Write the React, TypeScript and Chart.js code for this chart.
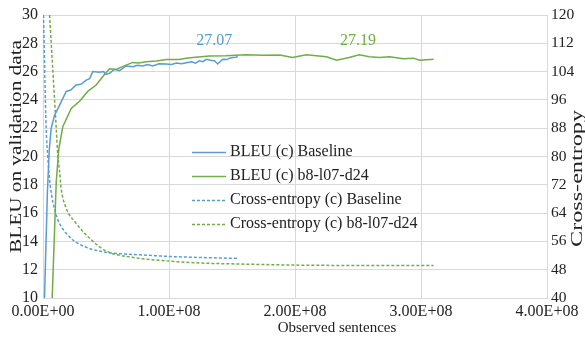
import React, { useEffect, useRef } from "react";
import { Chart, registerables } from "chart.js";

Chart.register(...registerables);

// ---- Data ----
const seriesNames = [
  "BLEU (c) Baseline",
  "BLEU (c) b8-l07-d24",
  "Cross-entropy (c) Baseline",
  "Cross-entropy (c) b8-l07-d24",
];

const xTickValues = [0, 1e8, 2e8, 3e8, 4e8];
const xTickLabels = ["0.00E+00", "1.00E+08", "2.00E+08", "3.00E+08", "4.00E+08"];

const bleuBaselineX = [
  1.2e6, 3.5e6, 5.0e6, 6.5e6, 9.1e6, 1.3e7, 1.84e7, 2.2e7, 2.63e7, 3.0e7, 3.43e7, 3.7e7,
  3.95e7, 4.48e7, 4.8e7, 5.0e7, 5.28e7, 5.67e7, 6.07e7, 6.6e7, 7.13e7, 7.5e7, 7.92e7, 8.3e7,
  8.71e7, 9.2e7, 9.78e7, 1.02e8, 1.06e8, 1.1e8, 1.137e8, 1.18e8, 1.21e8, 1.242e8, 1.27e8,
  1.295e8, 1.33e8, 1.36e8, 1.387e8, 1.41e8, 1.427e8, 1.46e8, 1.48e8, 1.506e8, 1.53e8, 1.546e8,
];
const bleuBaselineY = [
  10, 17.5, 20.5, 22.0, 22.9, 23.6, 24.6, 24.7, 25.05, 25.1, 25.4, 25.5,
  26.0, 25.95, 26.0, 25.8, 25.88, 26.16, 26.07, 26.4, 26.35, 26.45, 26.4, 26.5,
  26.4, 26.55, 26.54, 26.5, 26.6, 26.55, 26.62, 26.7, 26.6, 26.77, 26.7,
  26.87, 26.8, 26.77, 26.54, 26.75, 26.87, 26.85, 26.95, 27.0, 27.02, 27.07,
];

const bleuB8X = [
  7.3e6, 1.05e7, 1.25e7, 1.57e7, 2.24e7, 2.9e7, 3.55e7, 4.22e7, 4.8e7, 5.28e7, 5.8e7, 6.3e7,
  7.13e7, 7.6e7, 8.19e7, 9.0e7, 9.78e7, 1.08e8, 1.137e8, 1.19e8, 1.32e8, 1.45e8, 1.61e8,
  1.75e8, 1.88e8, 1.98e8, 2.09e8, 2.25e8, 2.33e8, 2.43e8, 2.51e8, 2.59e8, 2.67e8, 2.75e8,
  2.86e8, 2.94e8, 2.99e8, 3.1e8,
];
const bleuB8Y = [
  10, 18.2, 20.5, 22.1, 23.4, 23.9, 24.6, 25.05, 25.7, 26.2, 26.15, 26.35,
  26.65, 26.6, 26.7, 26.75, 26.85, 26.85, 26.94, 27.0, 27.1, 27.12, 27.19,
  27.15, 27.17, 27.0, 27.19, 27.05, 26.8, 27.0, 27.19, 27.05, 27.0, 27.05,
  26.9, 26.95, 26.8, 26.87,
];

const ceBaselineX = [
  4e5, 2.5e6, 3.8e6, 5.7e6, 1.0e7, 1.4e7, 1.84e7, 2.37e7, 3.0e7, 3.69e7, 5.0e7, 6.2e7,
  7.66e7, 1.03e8, 1.3e8, 1.55e8,
];
const ceBaselineY = [
  120, 88, 80, 72, 64, 60.5, 58.3, 56.4, 55.0, 54.0, 52.9, 52.5,
  52.2, 51.7, 51.4, 51.2,
];

const ceB8X = [
  5.2e6, 1.05e7, 1.18e7, 1.31e7, 1.44e7, 1.84e7, 2.63e7, 3.69e7, 5.0e7, 7.1e7, 9.78e7,
  1.24e8, 1.56e8, 2.0e8, 2.5e8, 3.1e8,
];
const ceB8Y = [
  120, 88, 80, 76, 71, 65.4, 61.1, 56.9, 53.3, 51.5, 50.5,
  49.9, 49.6, 49.3, 49.2, 49.2,
];

const annotationLabels = ["27.07", "27.19"];
const annotationX = [1.36e8, 2.5e8];
const annotationY = [28.16, 28.16];

const axisTitles = ["Observed sentences", "BLEU on validation data", "Cross-entropy"];

// ---- Styles ----
const BLUE = "#5B9BD5";
const GREEN = "#70AD47";
const TEXT = "#222222";
const GRID = "#D9D9D9";
const FONT = '"Liberation Serif", "Times New Roman", serif';

const toPoints = (xs: number[], ys: number[]) => xs.map((x, i) => ({ x, y: ys[i] }));

function drawStretchedVertical(
  ctx: CanvasRenderingContext2D,
  text: string,
  baselineX: number,
  centerY: number,
  length: number,
  size: number
) {
  ctx.save();
  ctx.font = `${size}px ${FONT}`;
  const w = ctx.measureText(text).width;
  ctx.translate(baselineX, centerY);
  ctx.rotate(-Math.PI / 2);
  ctx.scale(length / w, 1);
  ctx.textAlign = "center";
  ctx.textBaseline = "alphabetic";
  ctx.fillStyle = TEXT;
  ctx.fillText(text, 0, 0);
  ctx.restore();
}

const overlayPlugin = {
  id: "overlay",
  afterDraw(chart: any) {
    const ctx: CanvasRenderingContext2D = chart.ctx;
    const xs = chart.scales.x;
    const ys = chart.scales.y;

    // annotations
    ctx.save();
    ctx.font = `16px ${FONT}`;
    ctx.textAlign = "center";
    ctx.textBaseline = "middle";
    annotationLabels.forEach((t, i) => {
      ctx.fillStyle = i === 0 ? BLUE : GREEN;
      ctx.fillText(t, xs.getPixelForValue(annotationX[i]), ys.getPixelForValue(annotationY[i]));
    });
    ctx.restore();

    // legend
    ctx.save();
    ctx.font = `16px ${FONT}`;
    ctx.textAlign = "left";
    ctx.textBaseline = "middle";
    const rowY = [152, 176, 200, 224];
    chart.data.datasets.forEach((ds: any, i: number) => {
      const y = rowY[i];
      ctx.strokeStyle = ds.borderColor;
      ctx.lineWidth = 1.5;
      ctx.setLineDash(ds.borderDash || []);
      ctx.beginPath();
      ctx.moveTo(192, y + 0.5);
      ctx.lineTo(226, y + 0.5);
      ctx.stroke();
      ctx.setLineDash([]);
      ctx.fillStyle = TEXT;
      ctx.fillText(ds.label, 230, y);
    });
    ctx.restore();

    // axis titles
    ctx.save();
    ctx.font = `15px ${FONT}`;
    ctx.textAlign = "center";
    ctx.textBaseline = "alphabetic";
    ctx.fillStyle = TEXT;
    ctx.fillText(axisTitles[0], 337, 332);
    ctx.restore();
    drawStretchedVertical(ctx, axisTitles[1], 20.5, 146.5, 213, 16);
    drawStretchedVertical(ctx, axisTitles[2], 582, 178.5, 137, 16);
  },
};

export default function App() {
  const canvasRef = useRef<HTMLCanvasElement | null>(null);

  useEffect(() => {
    if (!canvasRef.current) return;
    const chart = new Chart(canvasRef.current, {
      type: "line",
      data: {
        datasets: [
          {
            label: seriesNames[0],
            data: toPoints(bleuBaselineX, bleuBaselineY),
            borderColor: BLUE,
            backgroundColor: BLUE,
            borderWidth: 1.5,
            pointRadius: 0,
            tension: 0,
            yAxisID: "y",
          },
          {
            label: seriesNames[1],
            data: toPoints(bleuB8X, bleuB8Y),
            borderColor: GREEN,
            backgroundColor: GREEN,
            borderWidth: 1.5,
            pointRadius: 0,
            tension: 0,
            yAxisID: "y",
          },
          {
            label: seriesNames[2],
            data: toPoints(ceBaselineX, ceBaselineY),
            borderColor: BLUE,
            backgroundColor: BLUE,
            borderWidth: 1.5,
            borderDash: [3, 2],
            pointRadius: 0,
            cubicInterpolationMode: "monotone",
            yAxisID: "y2",
          },
          {
            label: seriesNames[3],
            data: toPoints(ceB8X, ceB8Y),
            borderColor: GREEN,
            backgroundColor: GREEN,
            borderWidth: 1.5,
            borderDash: [3, 2],
            pointRadius: 0,
            cubicInterpolationMode: "monotone",
            yAxisID: "y2",
          },
        ],
      },
      options: {
        animation: false,
        responsive: false,
        parsing: true,
        layout: { padding: { top: 15, left: 0, right: 0, bottom: 0 } },
        plugins: {
          legend: { display: false },
          tooltip: { enabled: false },
          title: { display: false },
        },
        scales: {
          x: {
            type: "linear",
            min: 0,
            max: 4e8,
            afterBuildTicks: (s: any) => {
              s.ticks = xTickValues.map((v) => ({ value: v }));
            },
            afterFit: (s: any) => {
              s.height = 40;
            },
            ticks: {
              autoSkip: false,
              maxRotation: 0,
              padding: 4,
              color: TEXT,
              font: { family: FONT, size: 16 },
              callback: (_v: any, i: number) => xTickLabels[i],
            },
            grid: { color: GRID, lineWidth: 1, drawTicks: false },
            border: { color: GRID },
          },
          y: {
            type: "linear",
            position: "left",
            min: 10,
            max: 30,
            afterFit: (s: any) => {
              s.width = 43;
            },
            ticks: {
              stepSize: 2,
              padding: 5,
              color: TEXT,
              font: { family: FONT, size: 16 },
            },
            grid: { color: GRID, lineWidth: 1, drawTicks: false },
            border: { color: GRID },
          },
          y2: {
            type: "linear",
            position: "right",
            min: 40,
            max: 120,
            afterFit: (s: any) => {
              s.width = 38;
            },
            ticks: {
              stepSize: 8,
              padding: 4,
              color: TEXT,
              font: { family: FONT, size: 15.5 },
            },
            grid: { display: false, drawTicks: false },
            border: { color: GRID },
          },
        },
      },
      plugins: [overlayPlugin],
    } as any);
    return () => chart.destroy();
  }, []);

  return (
    <div style={{ position: "absolute", left: 0, top: 0, width: 585, height: 338, background: "#fff" }}>
      <canvas ref={canvasRef} width={585} height={338} style={{ width: 585, height: 338 }} />
    </div>
  );
}
